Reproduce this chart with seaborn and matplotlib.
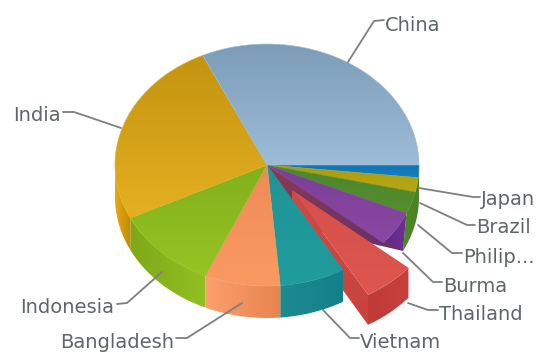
import numpy as np
import matplotlib
matplotlib.use("Agg")
import matplotlib.pyplot as plt
from matplotlib.patches import Polygon
import seaborn as sns

# Sweep of each slice in degrees, clockwise from the east edge of the disc
countries = ["Japan", "Brazil", "Philip...", "Burma", "Thailand", "Vietnam",
             "Bangladesh", "Indonesia", "India", "China"]
sweeps = [6, 7, 10.5, 16.5, 20, 25, 29, 40, 91, 115]

# Top-surface colours: (far edge, near edge)
top_far = ["#0f74b4", "#a89a10", "#4c8630", "#7a3f96", "#d4504a", "#1f9496",
           "#f08a58", "#80b01c", "#c4940f", "#7c9db8"]
top_near = ["#1480c0", "#b8a814", "#548e2c", "#8a48a4", "#de564e", "#209c9c",
            "#fa9a62", "#96c424", "#e4b022", "#9cbcd8"]
# Side-wall colours: (left, right)
wall_left = ["#0f74b4", "#a89a10", "#4c8a28", "#64288a", "#c03a38", "#1c8c90",
             "#fca06c", "#7fa818", "#e8a814", "#7c9db8"]
wall_right = ["#0f74b4", "#a89a10", "#4a8224", "#6c3090", "#c8403c", "#14808a",
              "#e88450", "#92c022", "#c08a08", "#7c9db8"]

sns.set_theme(style="white")
plt.rcParams["font.family"] = ["DejaVu Sans"]

W, H = 541, 353
CX, CY, RX, RY, DEPTH = 267, 165, 152, 121, 32
PULL = np.array([25, 25])

fig = plt.figure(figsize=(W / 100, H / 100), dpi=100)
ax = fig.add_axes([0, 0, 1, 1])
ax.set_axis_off()

order = [0]


def rim(deg, drop=0, shift=(0, 0)):
    a = np.radians(np.atleast_1d(deg))
    return np.column_stack([CX + RX * np.cos(a) + shift[0],
                            CY + RY * np.sin(a) + drop + shift[1]])


def arc(a, b, drop=0, shift=(0, 0)):
    return rim(np.linspace(a, b, 40), drop, shift)


def shade(points, c1, c2, vertical=True):
    """Fill a polygon with a two-colour linear ramp."""
    order[0] += 1
    pts = np.asarray(points)
    ramp = np.array(sns.blend_palette([c1, c2], 64))
    img = ramp[:, None, :] if vertical else ramp[None, :, :]
    x0, y0 = pts.min(axis=0)
    x1, y1 = pts.max(axis=0)
    im = ax.imshow(img, extent=[x0, x1, y1, y0], aspect="auto",
                   zorder=order[0], interpolation="bilinear")
    im.set_clip_path(Polygon(pts, closed=True, transform=ax.transData))


edges = np.concatenate([[0], np.cumsum(sweeps)])
slices = {name: (edges[i], edges[i + 1], i) for i, name in enumerate(countries)}
centre = np.array([[CX, CY]])

# Side walls on the near half of the disc
_, phil_end, p = slices["Philip..."]
tip_angle = phil_end + 3
shade(np.vstack([arc(0, phil_end), arc(tip_angle, 0, DEPTH)]),
      wall_left[p], wall_right[p], vertical=False)

burma_start, burma_end, b = slices["Burma"]
tip = rim(tip_angle, DEPTH)
shade(np.vstack([arc(burma_start, burma_end), tip]), wall_left[b], wall_right[b], vertical=False)

# Shadowed cut face between Burma and the pulled-out Thailand slice
shade(np.vstack([centre, tip, centre + [25, 60]]), "#8a3a52", "#6a3068")

# Pulled-out Thailand slice
t0, t1, t = slices["Thailand"]
apex = centre + PULL
shade(np.vstack([apex, rim(t1, 0, PULL), rim(t1, DEPTH - 2, PULL), apex + [0, DEPTH - 2]]),
      "#d04a44", "#c8423e")
shade(np.vstack([arc(t0, t1, 0, PULL), arc(t1, t0, DEPTH - 2, PULL)]),
      wall_left[t], wall_right[t], vertical=False)
shade(np.vstack([apex, arc(t0, t1, 0, PULL)]), top_far[t], top_near[t])

for name in ["Vietnam", "Bangladesh", "Indonesia", "India"]:
    a0, a1, i = slices[name]
    a1 = min(a1, 180)
    shade(np.vstack([arc(a0, a1), arc(a1, a0, DEPTH)]),
          wall_left[i], wall_right[i], vertical=False)

# Top surfaces
for name, (a0, a1, i) in slices.items():
    if name == "Thailand":
        continue
    shade(np.vstack([centre, arc(a0, a1)]), top_far[i], top_near[i])
    ax.add_patch(Polygon(np.vstack([centre, arc(a0, a1)]), closed=True, fill=False,
                         edgecolor=top_near[i], lw=0.4, zorder=order[0]))

# Leader lines and labels (text anchored on its baseline)
leaders = {
    "China": ([(348, 62), (374, 21), (384, 20)], (385, 31)),
    "India": ([(121, 128), (74, 112), (63, 112)], (13, 121)),
    "Japan": ([(419, 188), (473, 197), (480, 197)], (481, 205)),
    "Brazil": ([(420, 203), (467, 225), (475, 225)], (476, 233)),
    "Philip...": ([(418, 225), (452, 253), (462, 253)], (463, 263)),
    "Burma": ([(403, 253), (433, 282), (442, 282)], (443, 292)),
    "Thailand": ([(408, 303), (428, 310), (438, 310)], (439, 320)),
    "Vietnam": ([(323, 310), (350, 338), (359, 338)], (360, 348)),
    "Indonesia": ([(162, 272), (127, 303), (117, 304)], (20, 313)),
    "Bangladesh": ([(242, 303), (187, 338), (176, 338)], (60, 348)),
}
for name in countries:
    line, (tx, ty) = leaders[name]
    xs, ys = zip(*line)
    ax.plot(xs, ys, color="#7c7f81", lw=1.3, zorder=500, solid_capstyle="round")
    ax.text(tx, ty, name, color="#5f6668", fontsize=14, ha="left", va="baseline", zorder=501)

ax.set_xlim(0, W)
ax.set_ylim(H, 0)
fig.savefig("out.png", dpi=100, facecolor="white")
